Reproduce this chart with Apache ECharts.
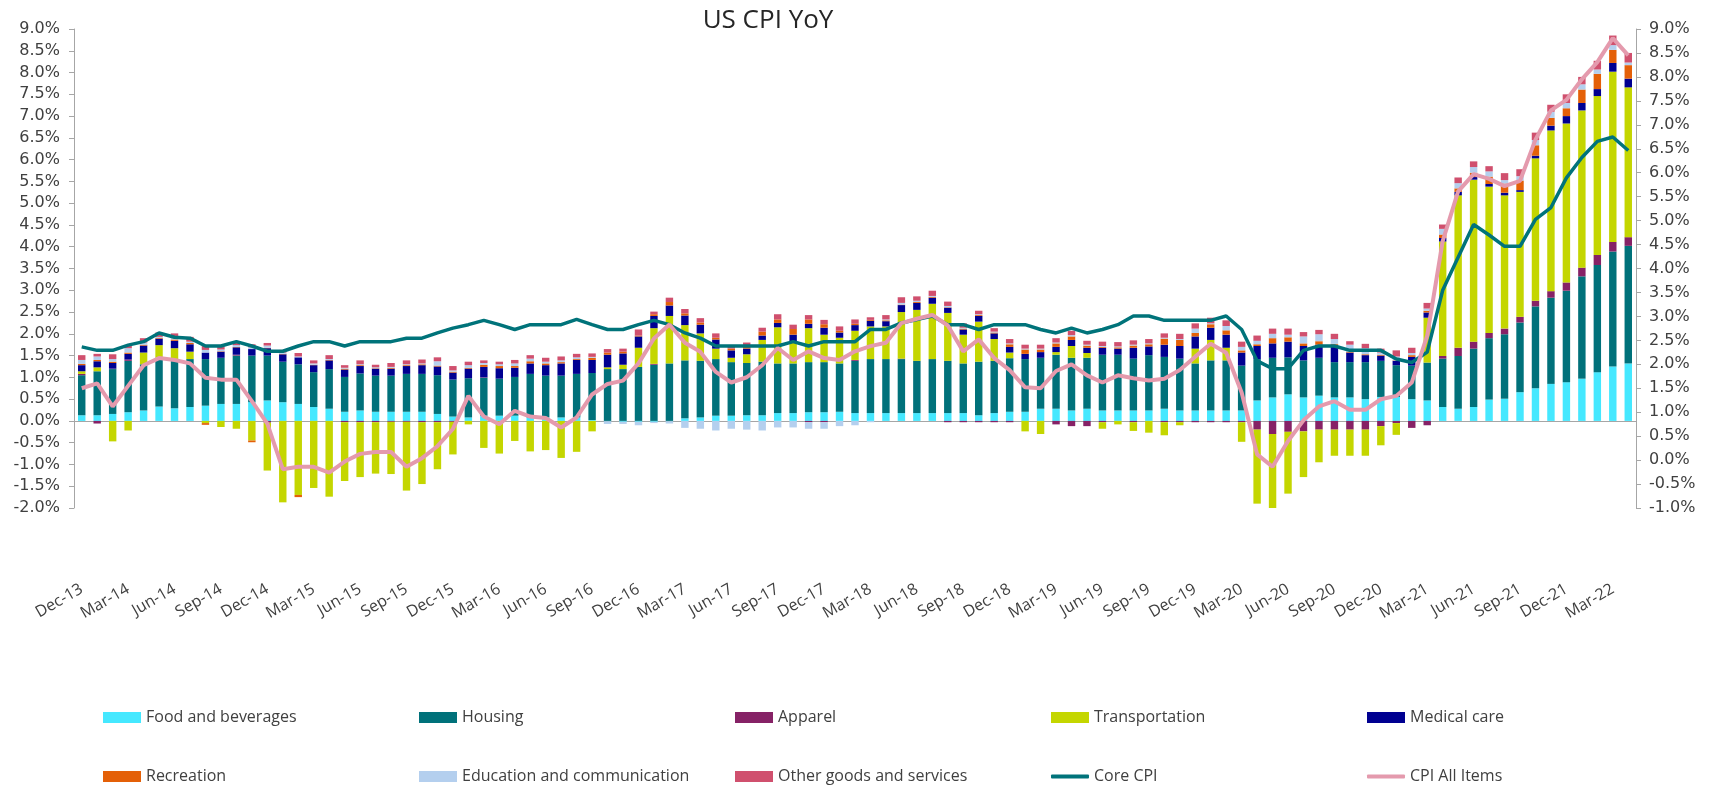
<!DOCTYPE html>
<html>
<head>
<meta charset="utf-8">
<title>US CPI YoY</title>
<script src="https://cdn.jsdelivr.net/npm/echarts@6/dist/echarts.min.js"></script>
<style>
  html, body { margin: 0; padding: 0; background: #fff; }
  #chart { width: 1710px; height: 789px; }
</style>
</head>
<body>
<div id="chart"></div>
<script>

// months, Dec-13 .. Apr-22
var months = [
  'Dec-13',
  'Jan-14','Feb-14','Mar-14','Apr-14','May-14','Jun-14','Jul-14','Aug-14','Sep-14','Oct-14','Nov-14','Dec-14',
  'Jan-15','Feb-15','Mar-15','Apr-15','May-15','Jun-15','Jul-15','Aug-15','Sep-15','Oct-15','Nov-15','Dec-15',
  'Jan-16','Feb-16','Mar-16','Apr-16','May-16','Jun-16','Jul-16','Aug-16','Sep-16','Oct-16','Nov-16','Dec-16',
  'Jan-17','Feb-17','Mar-17','Apr-17','May-17','Jun-17','Jul-17','Aug-17','Sep-17','Oct-17','Nov-17','Dec-17',
  'Jan-18','Feb-18','Mar-18','Apr-18','May-18','Jun-18','Jul-18','Aug-18','Sep-18','Oct-18','Nov-18','Dec-18',
  'Jan-19','Feb-19','Mar-19','Apr-19','May-19','Jun-19','Jul-19','Aug-19','Sep-19','Oct-19','Nov-19','Dec-19',
  'Jan-20','Feb-20','Mar-20','Apr-20','May-20','Jun-20','Jul-20','Aug-20','Sep-20','Oct-20','Nov-20','Dec-20',
  'Jan-21','Feb-21','Mar-21','Apr-21','May-21','Jun-21','Jul-21','Aug-21','Sep-21','Oct-21','Nov-21','Dec-21',
  'Jan-22','Feb-22','Mar-22','Apr-22'
];

// contributions, percentage points
var food = [
  0.13,
  0.13, 0.16, 0.20, 0.24, 0.33, 0.29, 0.32, 0.35, 0.39, 0.39, 0.43, 0.47,
  0.43, 0.39, 0.32, 0.28, 0.21, 0.24, 0.21, 0.21, 0.21, 0.21, 0.16, 0.10,
  0.08, 0.12, 0.12, 0.12, 0.08, 0.08, 0.08, 0.08, 0.02, -0.01, -0.02, -0.02,
  -0.02, -0.01, 0.06, 0.08, 0.12, 0.12, 0.13, 0.13, 0.18, 0.18, 0.20, 0.20,
  0.21, 0.18, 0.18, 0.18, 0.18, 0.18, 0.18, 0.18, 0.18, 0.13, 0.18, 0.21,
  0.21, 0.28, 0.28, 0.24, 0.28, 0.24, 0.24, 0.24, 0.24, 0.28, 0.24, 0.24,
  0.24, 0.24, 0.24, 0.47, 0.54, 0.61, 0.54, 0.58, 0.54, 0.54, 0.50, 0.55,
  0.55, 0.50, 0.47, 0.32, 0.28, 0.32, 0.49, 0.51, 0.66, 0.75, 0.85, 0.89,
  0.97, 1.12, 1.25, 1.32
];
var housing = [
  0.92,
  1.01, 1.03, 1.18, 1.06, 1.12, 1.11, 1.10, 1.07, 1.06, 1.11, 1.07, 1.03,
  0.93, 0.91, 0.80, 0.91, 0.80, 0.85, 0.83, 0.83, 0.87, 0.87, 0.89, 0.85,
  0.90, 0.87, 0.85, 0.89, 1.00, 0.96, 0.96, 1.00, 1.08, 1.19, 1.19, 1.24,
  1.29, 1.32, 1.33, 1.30, 1.30, 1.23, 1.20, 1.23, 1.14, 1.14, 1.15, 1.15,
  1.11, 1.20, 1.24, 1.24, 1.24, 1.20, 1.24, 1.20, 1.14, 1.23, 1.20, 1.23,
  1.21, 1.17, 1.24, 1.21, 1.17, 1.28, 1.28, 1.19, 1.27, 1.19, 1.19, 1.08,
  1.15, 1.15, 1.03, 0.95, 0.91, 0.85, 0.85, 0.87, 0.81, 0.81, 0.85, 0.83,
  0.73, 0.77, 0.87, 1.11, 1.21, 1.34, 1.41, 1.48, 1.60, 1.88, 1.98, 2.10,
  2.35, 2.46, 2.64, 2.70
];
var apparel = [
  0.03,
  -0.06, 0.01, 0.03, 0, 0, 0, 0, 0, 0, 0.02, 0, -0.04,
  0, 0, 0, 0, -0.03, -0.03, -0.03, -0.02, -0.02, -0.03, -0.03, -0.02,
  0, 0.01, 0, 0, 0, 0, 0, 0, 0, 0, 0, 0,
  0.02, 0, 0, 0, 0, 0, 0, 0, 0, 0, -0.03, -0.03,
  0, 0.02, 0, 0, 0.01, 0, 0, -0.03, -0.03, -0.03, -0.03, -0.03,
  0, 0, -0.08, -0.12, -0.12, -0.03, 0, -0.03, 0, -0.03, -0.03, -0.03,
  -0.03, -0.03, -0.03, -0.20, -0.30, -0.25, -0.24, -0.20, -0.20, -0.20, -0.20, -0.12,
  -0.05, -0.16, -0.10, 0.06, 0.19, 0.16, 0.12, 0.13, 0.13, 0.13, 0.15, 0.19,
  0.20, 0.23, 0.22, 0.20
];
var transportation = [
  0.06,
  0.09, -0.47, -0.22, 0.27, 0.29, 0.27, 0.17, -0.05, -0.14, -0.18, -0.45, -1.10,
  -1.87, -1.70, -1.54, -1.74, -1.35, -1.26, -1.18, -1.20, -1.58, -1.42, -1.08, -0.75,
  -0.08, -0.62, -0.75, -0.46, -0.70, -0.67, -0.85, -0.71, -0.24, 0.04, 0.10, 0.44,
  0.82, 1.09, 0.81, 0.63, 0.24, 0.10, 0.20, 0.50, 0.83, 0.50, 0.78, 0.63,
  0.59, 0.67, 0.75, 0.75, 1.07, 1.17, 1.27, 1.10, 0.66, 0.92, 0.50, 0.13,
  -0.24, -0.30, 0.06, 0.27, 0.11, -0.15, -0.08, -0.20, -0.27, -0.30, -0.07, 0.34,
  0.47, 0.29, -0.45, -1.70, -1.73, -1.42, -1.05, -0.75, -0.60, -0.60, -0.60, -0.44,
  -0.27, 0, 1.03, 2.63, 3.50, 3.72, 3.36, 3.06, 2.87, 3.27, 3.69, 3.65,
  3.61, 3.65, 3.91, 3.44
];
var medical = [
  0.14,
  0.14, 0.13, 0.13, 0.16, 0.15, 0.17, 0.17, 0.15, 0.14, 0.17, 0.15, 0.17,
  0.17, 0.16, 0.16, 0.20, 0.17, 0.17, 0.16, 0.16, 0.18, 0.20, 0.20, 0.16,
  0.22, 0.24, 0.24, 0.21, 0.24, 0.24, 0.28, 0.32, 0.30, 0.29, 0.26, 0.26,
  0.28, 0.24, 0.22, 0.20, 0.21, 0.17, 0.13, 0.10, 0.10, 0.16, 0.10, 0.16,
  0.12, 0.13, 0.13, 0.12, 0.16, 0.16, 0.14, 0.12, 0.12, 0.13, 0.13, 0.13,
  0.12, 0.13, 0.12, 0.14, 0.12, 0.16, 0.14, 0.25, 0.20, 0.28, 0.29, 0.28,
  0.28, 0.30, 0.30, 0.30, 0.33, 0.36, 0.33, 0.30, 0.40, 0.22, 0.16, 0.12,
  0.10, 0.20, 0.12, 0.08, 0.08, 0.06, 0.06, 0.06, 0.04, 0.06, 0.11, 0.17,
  0.17, 0.16, 0.20, 0.20
];
var recreation = [
  0.03,
  0.03, 0.03, 0.03, 0.02, 0.02, 0.03, 0.03, -0.04, 0.01, 0.01, -0.04, 0.01,
  0.01, -0.05, 0.01, 0.01, 0.02, 0.02, 0.01, 0.02, 0.02, 0.02, 0.02, 0.02,
  0.02, 0.05, 0.05, 0.04, 0.05, 0.04, 0.03, 0.02, 0.05, 0.05, 0.04, 0.02,
  0.04, 0.08, 0.05, 0.05, 0.04, 0.04, 0.05, 0.09, 0.08, 0.13, 0.10, 0.08,
  0.04, 0.03, 0.02, 0.02, 0.01, 0.02, 0.02, 0.01, 0.02, 0.02, 0.02, 0.06,
  0.10, 0.06, 0.08, 0.08, 0.05, 0.02, 0.03, 0.05, 0.05, 0.14, 0.14, 0.08,
  0.08, 0.10, 0.05, 0.04, 0.12, 0.10, 0.06, 0.08, 0.02, 0.02, 0.02, 0.02,
  0.01, 0.04, 0.04, 0.08, 0.08, 0.10, 0.17, 0.21, 0.22, 0.24, 0.18, 0.18,
  0.31, 0.35, 0.30, 0.31
];
var education = [
  0.09,
  0.08, 0.06, 0.10, 0.05, 0.02, 0.03, 0.03, 0.06, 0.04, 0.04, 0.04, 0.05,
  0.03, 0.02, 0.03, 0.02, 0.02, 0.02, 0.02, 0.02, 0.02, 0.02, 0.10, 0.03,
  0.06, 0.04, 0.04, 0.06, 0.06, 0.04, 0.04, 0.04, 0.02, -0.06, -0.05, -0.08,
  -0.03, -0.05, -0.16, -0.18, -0.22, -0.18, -0.20, -0.22, -0.15, -0.15, -0.15, -0.15,
  -0.12, -0.10, -0.03, 0.02, 0.04, 0.03, 0.02, 0.03, 0.02, 0.02, 0.02, 0.02,
  0.02, 0.02, 0.02, 0.03, 0.02, 0.02, 0.02, 0.02, 0.02, 0.02, 0.02, 0.10,
  0.02, 0.10, 0.08, 0.08, 0.10, 0.06, 0.16, 0.16, 0.11, 0.16, 0.14, 0.05,
  0.09, 0.05, 0.05, 0.13, 0.12, 0.13, 0.12, 0.08, 0.10, 0.12, 0.14, 0.12,
  0.12, 0.10, 0.11, 0.06
];
var other = [
  0.11,
  0.06, 0.11, 0.06, 0.10, 0.10, 0.11, 0.11, 0.09, 0.07, 0.06, 0.07, 0.06,
  0.06, 0.08, 0.07, 0.09, 0.06, 0.09, 0.06, 0.09, 0.09, 0.09, 0.09, 0.10,
  0.08, 0.06, 0.06, 0.08, 0.08, 0.09, 0.09, 0.08, 0.08, 0.08, 0.07, 0.14,
  0.06, 0.10, 0.10, 0.10, 0.10, 0.06, 0.09, 0.09, 0.12, 0.10, 0.10, 0.10,
  0.10, 0.10, 0.06, 0.10, 0.13, 0.10, 0.12, 0.10, 0.10, 0.08, 0.08, 0.10,
  0.09, 0.09, 0.10, 0.10, 0.09, 0.10, 0.10, 0.10, 0.10, 0.10, 0.12, 0.12,
  0.13, 0.13, 0.12, 0.12, 0.12, 0.14, 0.10, 0.10, 0.12, 0.08, 0.10, 0.09,
  0.14, 0.12, 0.13, 0.10, 0.13, 0.13, 0.12, 0.16, 0.16, 0.17, 0.16, 0.20,
  0.17, 0.20, 0.22, 0.22
];

// lines, % yoy
var coreCpi = [
  1.70,
  1.62, 1.62, 1.74, 1.82, 2.02, 1.92, 1.90, 1.72, 1.72, 1.82, 1.72, 1.60,
  1.60, 1.72, 1.82, 1.82, 1.72, 1.82, 1.82, 1.82, 1.90, 1.90, 2.02, 2.13,
  2.21, 2.31, 2.21, 2.10, 2.21, 2.21, 2.21, 2.33, 2.21, 2.10, 2.10, 2.21,
  2.31, 2.21, 2.02, 1.90, 1.72, 1.72, 1.72, 1.72, 1.72, 1.82, 1.72, 1.82,
  1.82, 1.82, 2.10, 2.10, 2.25, 2.33, 2.41, 2.21, 2.21, 2.10, 2.21, 2.21,
  2.21, 2.10, 2.02, 2.13, 2.02, 2.10, 2.21, 2.41, 2.41, 2.31, 2.31, 2.31,
  2.31, 2.41, 2.10, 1.38, 1.20, 1.20, 1.62, 1.72, 1.72, 1.62, 1.62, 1.62,
  1.42, 1.34, 1.58, 3.00, 3.76, 4.51, 4.27, 4.01, 4.01, 4.63, 4.90, 5.58,
  6.05, 6.42, 6.52, 6.21
];
var cpiAll = [
  1.50,
  1.60, 1.12, 1.55, 1.98, 2.13, 2.09, 2.02, 1.72, 1.68, 1.68, 1.23, 0.76,
  -0.19, -0.14, -0.14, -0.26, -0.03, 0.13, 0.17, 0.17, -0.14, 0.04, 0.29, 0.65,
  1.34, 0.91, 0.75, 1.03, 0.91, 0.88, 0.68, 0.89, 1.37, 1.59, 1.66, 2.02,
  2.54, 2.83, 2.45, 2.26, 1.84, 1.62, 1.73, 1.98, 2.34, 2.09, 2.27, 2.13,
  2.09, 2.27, 2.38, 2.45, 2.86, 2.95, 3.03, 2.81, 2.27, 2.52, 2.13, 1.88,
  1.52, 1.50, 1.86, 2.00, 1.77, 1.62, 1.77, 1.71, 1.66, 1.70, 1.88, 2.16,
  2.43, 2.24, 1.41, 0.12, -0.14, 0.40, 0.83, 1.12, 1.23, 1.05, 1.05, 1.27,
  1.34, 1.62, 2.60, 4.57, 5.61, 5.97, 5.87, 5.72, 5.83, 6.69, 7.30, 7.52,
  7.95, 8.31, 8.81, 8.45
];

var barSeries = [
  { name: 'Food and beverages', data: food, color: '#45E8FF' },
  { name: 'Housing', data: housing, color: '#00717A' },
  { name: 'Apparel', data: apparel, color: '#862266' },
  { name: 'Transportation', data: transportation, color: '#C4D600' },
  { name: 'Medical care', data: medical, color: '#000091' },
  { name: 'Recreation', data: recreation, color: '#E46008' },
  { name: 'Education and communication', data: education, color: '#B4CFEE' },
  { name: 'Other goods and services', data: other, color: '#D0506E' }
];

// legend grid: [name, column, row]
var legendCells = [
  ['Food and beverages', 0, 0],
  ['Housing', 1, 0],
  ['Apparel', 2, 0],
  ['Transportation', 3, 0],
  ['Medical care', 4, 0],
  ['Recreation', 0, 1],
  ['Education and communication', 1, 1],
  ['Other goods and services', 2, 1],
  ['Core CPI', 3, 1],
  ['CPI All Items', 4, 1]
];
var lineNames = ['Core CPI', 'CPI All Items'];

var axisGrey = '#A6A6A6';
var textGrey = '#404040';

var series = barSeries.map(function (s) {
  return {
    name: s.name,
    type: 'bar',
    stack: 'cpi',
    data: s.data,
    barCategoryGap: '52%',
    itemStyle: { color: s.color },
    emphasis: { disabled: true }
  };
});

series.push({
  name: 'Core CPI',
  type: 'line',
  yAxisIndex: 0,
  data: coreCpi,
  symbol: 'none',
  lineStyle: { width: 3.5, color: '#00737A' },
  itemStyle: { color: '#00737A' },
  z: 5
});

series.push({
  name: 'CPI All Items',
  type: 'line',
  yAxisIndex: 1,
  data: cpiAll,
  symbol: 'none',
  lineStyle: { width: 4, color: '#E49AAD' },
  itemStyle: { color: '#E49AAD' },
  z: 6
});

var legends = legendCells.map(function (c) {
  var isLine = lineNames.indexOf(c[0]) >= 0;
  return {
    left: 103 + c[1] * 316,
    top: c[2] === 0 ? 707.6 : 766.6,
    padding: 0,
    itemWidth: 38,
    itemHeight: isLine ? 4 : 11,
    selectedMode: false,
    data: [{ name: c[0], icon: isLine ? 'roundRect' : 'rect' }],
    textStyle: { fontFamily: 'Open Sans', fontSize: 16, color: textGrey, lineHeight: 20 }
  };
});

function pct(v) {
  return v.toFixed(1) + '%';
}

var chart = echarts.init(document.getElementById('chart'), null, { renderer: 'canvas' });

chart.setOption({
  animation: false,
  backgroundColor: '#ffffff',
  title: {
    text: 'US CPI YoY',
    left: 763,
    top: 3,
    textAlign: 'center',
    textStyle: { fontFamily: 'Open Sans', fontSize: 26, fontWeight: 'normal', color: '#262626' }
  },
  legend: legends,
  grid: { left: 74, right: 74, top: 29, bottom: 281, containLabel: false },
  xAxis: [
    {
      type: 'category',
      data: months,
      position: 'bottom',
      axisLine: { onZero: true, onZeroAxisIndex: 0, lineStyle: { color: axisGrey, width: 1 } },
      axisTick: { interval: 2, length: 5, lineStyle: { color: axisGrey } },
      axisLabel: { show: false }
    },
    {
      type: 'category',
      data: months,
      position: 'bottom',
      axisLine: { show: false, onZero: false },
      axisTick: { show: false },
      axisLabel: {
        interval: 2,
        rotate: 30,
        margin: 80,
        fontFamily: 'Open Sans',
        fontSize: 16,
        color: textGrey
      }
    }
  ],
  yAxis: [
    {
      type: 'value',
      position: 'left',
      min: -2,
      max: 9,
      interval: 0.5,
      splitLine: { show: false },
      axisLine: { show: true, lineStyle: { color: axisGrey } },
      axisTick: { show: true, length: 5, lineStyle: { color: axisGrey } },
      axisLabel: { formatter: pct, margin: 14, fontFamily: 'DejaVu Sans', fontSize: 16, color: textGrey }
    },
    {
      type: 'value',
      position: 'right',
      min: -1,
      max: 9,
      interval: 0.5,
      splitLine: { show: false },
      axisLine: { show: true, lineStyle: { color: axisGrey } },
      axisTick: { show: true, length: 5, lineStyle: { color: axisGrey } },
      axisLabel: { formatter: pct, margin: 13, fontFamily: 'DejaVu Sans', fontSize: 16, color: textGrey }
    }
  ],
  series: series
});

window.addEventListener('resize', function () {
  chart.resize();
});
</script>
</body>
</html>
